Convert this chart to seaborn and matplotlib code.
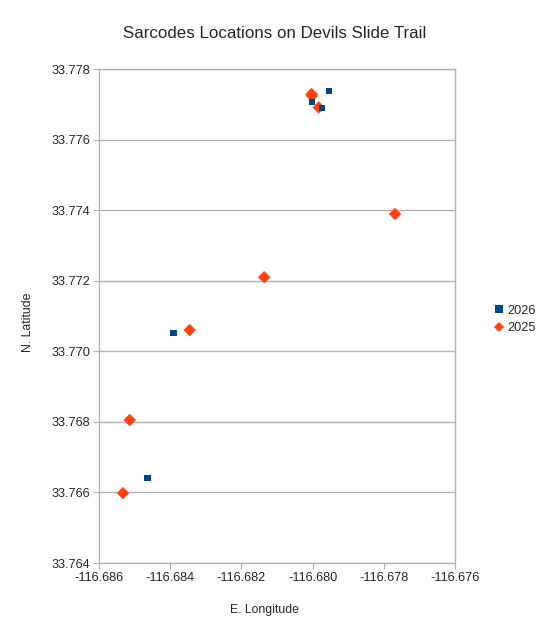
import pandas as pd
import matplotlib.pyplot as plt
import matplotlib.ticker as mticker
import seaborn as sns

# -------- DATA --------
lon_2025 = [-116.68003, -116.68002, -116.67983, -116.68345, -116.68513,
            -116.68532, -116.67769, -116.68136]
lat_2025 = [33.77729, 33.77724, 33.77691, 33.77060, 33.76805,
            33.76598, 33.77389, 33.77210]
lon_2026 = [-116.68001, -116.67955, -116.67974, -116.68390, -116.68463]
lat_2026 = [33.77707, 33.77738, 33.77689, 33.77051, 33.76642]
years = ["2026", "2025"]
x_ticks = [-116.686, -116.684, -116.682, -116.680, -116.678, -116.676]
y_ticks = [33.764, 33.766, 33.768, 33.770, 33.772, 33.774, 33.776, 33.778]
# ----------------------

df = pd.concat([
    pd.DataFrame({"lon": lon_2025, "lat": lat_2025, "year": "2025"}),
    pd.DataFrame({"lon": lon_2026, "lat": lat_2026, "year": "2026"}),
], ignore_index=True)

sns.set_style("white")
plt.rcParams["font.family"] = ["Liberation Sans", "DejaVu Sans"]

grey = "#b3b3b3"
fig = plt.figure(figsize=(5.47, 6.37), dpi=100)
ax = fig.add_axes([98.7 / 547, 1 - 563 / 637, (455.3 - 98.7) / 547, (563 - 69) / 637])

sns.scatterplot(data=df, x="lon", y="lat", hue="year", style="year",
                hue_order=years, style_order=years,
                palette={"2026": "#004586", "2025": "#ff420e"},
                markers={"2026": "s", "2025": "D"},
                size="year", sizes={"2026": 20, "2025": 40}, size_order=years,
                linewidth=0, ax=ax, zorder=3)

ax.set_xlim(-116.686, -116.676)
ax.set_ylim(33.764, 33.778)
ax.set_xticks(x_ticks)
ax.set_yticks(y_ticks)
ax.xaxis.set_major_formatter(mticker.FormatStrFormatter("%.3f"))
ax.yaxis.set_major_formatter(mticker.FormatStrFormatter("%.3f"))
ax.tick_params(axis="both", direction="out", length=4.3, color=grey,
               labelsize=9.2, pad=2, bottom=True, left=True)
ax.yaxis.grid(True, color=grey, linewidth=1)
ax.xaxis.grid(False)
for sp in ax.spines.values():
    sp.set_color(grey)
    sp.set_linewidth(1)

ax.set_xlabel("")
ax.set_ylabel("")
fig.text(264 / 547, 1 - 610 / 637, "E. Longitude", ha="center", va="center", fontsize=8.8)
fig.text(28 / 547, 1 - 322 / 637, "N. Latitude", ha="center", va="center",
         rotation=90, fontsize=8.8)
fig.text(275 / 547, 1 - 34 / 637, "Sarcodes Locations on Devils Slide Trail",
         ha="center", va="center", fontsize=12.2)

handles, labels = ax.get_legend_handles_labels()
ax.get_legend().remove()
pairs = [(h, l) for h, l in zip(handles, labels) if l in years]
leg_sizes = {"2026": 5.8, "2025": 5.2}
for h, l in pairs:
    h.set_markersize(leg_sizes[l])
fig.legend([p[0] for p in pairs], [p[1] for p in pairs],
           loc="center left", bbox_to_anchor=(493 / 547, 1 - 319.5 / 637),
           frameon=False, fontsize=9.2, handletextpad=0.15, labelspacing=0.45,
           handlelength=1.0, borderaxespad=0, borderpad=0)

fig.savefig("out.png", dpi=100)
